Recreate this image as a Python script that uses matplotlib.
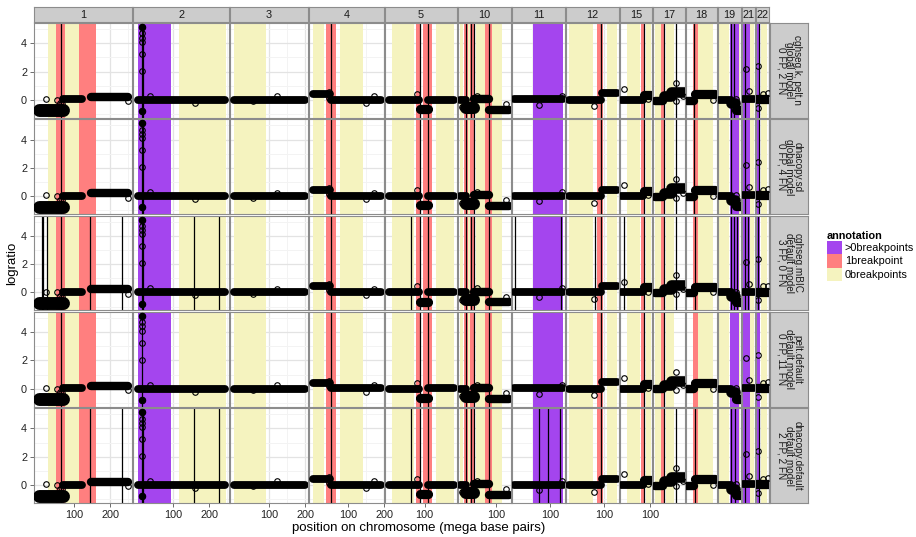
import matplotlib
matplotlib.use('Agg')
import matplotlib.pyplot as plt
from matplotlib.patches import Patch

plt.rcParams['font.family'] = ['Liberation Sans', 'DejaVu Sans']

# chromosomes shown (columns) and the span of probes on each, in Mb
chroms = ['1', '2', '3', '4', '5', '10', '11', '12', '15', '17', '18', '19', '21', '22']
chrom_start = [0, 0, 0, 0, 0, 0, 0, 0, 20, 0, 0, 0, 15, 17]
chrom_end = [249, 243, 198, 191, 181, 135, 135, 134, 102, 81, 78, 59, 48, 51]

# facet rows
models = ['cghseg.k, pelt.n\nglobal model\n0 FP, 2 FN',
          'dnacopy.sd\nglobal model\n0 FP, 4 FN',
          'cghseg.mBIC\ndefault model\n3 FP, 0 FN',
          'pelt.default\ndefault model\n0 FP, 11 FN',
          'dnacopy.default\ndefault model\n2 FP, 2 FN']

# annotated regions (same in every row)
ann_chrom = ['1', '1', '1', '1',
             '2', '2',
             '3',
             '4', '4', '4',
             '5', '5', '5', '5',
             '10', '10', '10', '10', '10', '10', '10',
             '11',
             '12', '12', '12',
             '15', '15', '15',
             '17', '17', '17',
             '18', '18',
             '19', '19', '19',
             '21', '21',
             '22', '22']
ann_start = [27, 50, 75, 114,
             0, 116,
             0,
             0, 38, 77,
             10, 75, 97, 132,
             0, 10, 23, 28, 43, 70, 89,
             52,
             0, 80, 106,
             37, 75, 89,
             0, 18, 31,
             16, 29,
             0, 30, 56,
             16, 35,
             17, 29.7]
ann_end = [50, 75, 112, 159,
           92, 247,
           91,
           31, 66, 142,
           72, 89, 121, 181,
           7, 22, 28, 42, 68, 88, 116,
           135,
           68, 95, 134,
           72, 87, 102,
           17, 30, 53,
           28, 72,
           27, 56, 59,
           35, 48,
           28, 46]
ann_type = ['0breakpoints', '1breakpoint', '0breakpoints', '1breakpoint',
            '>0breakpoints', '0breakpoints',
            '0breakpoints',
            '0breakpoints', '1breakpoint', '0breakpoints',
            '0breakpoints', '1breakpoint', '1breakpoint', '0breakpoints',
            '0breakpoints', '1breakpoint', '0breakpoints', '1breakpoint', '0breakpoints', '1breakpoint', '0breakpoints',
            '>0breakpoints',
            '0breakpoints', '1breakpoint', '0breakpoints',
            '0breakpoints', '1breakpoint', '0breakpoints',
            '0breakpoints', '1breakpoint', '0breakpoints',
            '1breakpoint', '0breakpoints',
            '0breakpoints', '>0breakpoints', '0breakpoints',
            '>0breakpoints', '0breakpoints',
            '>0breakpoints', '0breakpoints']
ann_colors = {'>0breakpoints': '#A445EE', '1breakpoint': '#FF7F7F', '0breakpoints': '#F5F3BF'}

# logratio profile: runs of probes (start, end, typical level, spread)
seg_chrom = ['1', '1', '1', '2', '3', '4', '4', '5', '5', '5',
             '10', '10', '10', '10', '11', '12', '12', '15', '15',
             '17', '17', '17', '18', '18', '19', '19', '19', '21', '22']
seg_start = [0.8, 68, 145, 0, 0, 0, 51, 0, 88, 111,
             0, 16, 39, 81, 0, 0, 92, 20, 82,
             0, 25, 46, 0, 20, 0, 34, 47, 15, 17]
seg_end = [67, 121, 249, 243, 198, 49, 191, 86, 109, 181,
           15, 38, 80, 135, 135, 91, 134, 81, 102,
           24, 45, 81, 19, 78, 33, 46, 59, 48, 51]
seg_mean = [-0.75, 0.03, 0.22, 0.0, 0.0, 0.42, 0.02, 0.0, -0.65, 0.02,
            0.0, -0.55, 0.05, -0.7, 0.03, 0.0, 0.45, 0.0, 0.35,
            -0.05, 0.25, 0.55, -0.05, 0.4, 0.0, -0.25, -0.7, 0.05, 0.05]
seg_spread = [0.28, 0.1, 0.12, 0.1, 0.1, 0.1, 0.1, 0.1, 0.15, 0.1,
              0.1, 0.25, 0.12, 0.12, 0.1, 0.1, 0.1, 0.1, 0.15,
              0.12, 0.2, 0.2, 0.12, 0.15, 0.1, 0.2, 0.15, 0.1, 0.15]

# isolated probes
out_chrom = ['1', '1', '1', '1', '1',
             '2', '2', '2', '2', '2', '2', '2', '2', '2',
             '3', '3', '4', '4', '4', '4', '5',
             '10', '10', '10', '11', '11', '12', '15', '15',
             '17', '17', '17', '18', '19', '21', '21',
             '22', '22', '22', '22']
out_pos = [22, 52, 65, 60, 249,
           13.7, 13.7, 13.7, 13.7, 13.7, 13.7, 13.7, 36, 160,
           120, 55, 47, 46, 150, 170, 80,
           4, 46, 128, 70, 132, 72, 27.7, 95,
           60.5, 60, 78, 72, 48, 24.4, 34.2,
           21.7, 35, 48.4, 21.7]
out_val = [0.05, 0.0, -0.3, -0.25, -0.1,
           5.15, 4.7, 4.4, 4.1, 3.25, 2.06, -0.8, 0.28, -0.2,
           0.25, -0.1, 0.58, 0.16, -0.2, 0.25, 0.42,
           -0.5, 0.28, -0.3, -0.35, 0.28, -0.47, 0.77, 0.05,
           1.2, -0.1, 0.25, 0.0, 0.05, 2.18, 0.63,
           2.39, 0.42, 0.47, -0.56]
# overplotted clusters that show as solid dots
dense_chrom = ['2', '2']
dense_pos = [13.7, 13.7]
dense_val = [5.15, -0.8]

# predicted breakpoints of each model (chromosome, Mb)
bp_cghseg_k = [('1', 63.4), ('2', 13.2), ('2', 14.4), ('4', 50.4), ('5', 87), ('5', 110),
               ('10', 15), ('10', 30), ('10', 38), ('10', 79), ('12', 91), ('15', 82),
               ('17', 25), ('17', 59.4), ('18', 19.4), ('19', 34), ('19', 43),
               ('21', 22.7), ('22', 23.3)]
bp_dnacopy_sd = [('1', 63.4), ('2', 13.2), ('2', 14.4), ('4', 50.4), ('5', 87), ('5', 110),
                 ('10', 15), ('10', 38), ('10', 79), ('12', 91), ('15', 82),
                 ('17', 25), ('17', 59.4), ('18', 19.4), ('19', 34),
                 ('21', 22.7), ('22', 23.3)]
bp_cghseg_mbic = [('1', 8.6), ('1', 13), ('1', 24), ('1', 63.4), ('1', 143.7), ('1', 234),
                  ('2', 13.2), ('2', 14.4), ('2', 157.6), ('2', 225.6), ('4', 50.4),
                  ('5', 61), ('5', 87), ('5', 110), ('10', 15), ('10', 30), ('10', 38), ('10', 79),
                  ('11', 2), ('11', 130), ('12', 73), ('12', 91), ('15', 27.7), ('15', 82),
                  ('17', 25), ('17', 60), ('18', 20), ('19', 34), ('19', 43), ('19', 51),
                  ('21', 22.7), ('21', 31), ('22', 22.5)]
bp_pelt_default = [('1', 63.4), ('2', 13.7), ('4', 50.4), ('5', 87), ('5', 110),
                   ('10', 15), ('10', 38), ('10', 79), ('12', 91), ('15', 82), ('17', 25)]
bp_dnacopy_default = [('1', 63.4), ('1', 143.7), ('1', 234), ('2', 13.2), ('2', 14.4),
                      ('2', 157.6), ('2', 225.6), ('4', 50.4), ('5', 61), ('5', 87), ('5', 110),
                      ('10', 15), ('10', 30), ('10', 38), ('10', 79), ('11', 70), ('11', 92.6),
                      ('11', 127), ('12', 91), ('15', 82), ('17', 25), ('17', 60), ('18', 20),
                      ('19', 34), ('19', 45), ('21', 22.7), ('22', 23.3)]
breakpoints = [bp_cghseg_k, bp_dnacopy_sd, bp_cghseg_mbic, bp_pelt_default, bp_dnacopy_default]

# ---- layout (pixels) ----
W, H = 916, 537
fig = plt.figure(figsize=(W / 100, H / 100), dpi=100)
left, right, top, bottom = 34, 769.3, 23, 503
gap_x, gap_y = 0.9, 1.5
ylim = (-1.27, 5.43)
border = '#8C8C8C'
spans = [(e - s) * 1.1 for s, e in zip(chrom_start, chrom_end)]
scale = (right - left - gap_x * (len(chroms) - 1)) / sum(spans)
row_h = (bottom - top - gap_y * (len(models) - 1)) / len(models)


def box(x0, y0, w, h):
    return [x0 / W, 1 - (y0 + h) / H, w / W, h / H]


def grey_strip(ax):
    ax.set_xticks([])
    ax.set_yticks([])
    ax.set_facecolor('#CCCCCC')
    for sp in ax.spines.values():
        sp.set_color(border)
        sp.set_linewidth(0.8)


for r, model in enumerate(models):
    y0 = top + r * (row_h + gap_y)
    x0 = left
    for c, ch in enumerate(chroms):
        w = spans[c] * scale
        ax = fig.add_axes(box(x0, y0, w, row_h))
        ax.set_axisbelow(True)
        ax.set_xticks([100, 200])
        ax.set_xticks([50, 150, 250], minor=True)
        ax.set_yticks([0, 2, 4])
        ax.set_yticks([-1, 1, 3, 5], minor=True)
        ax.grid(which='major', color='#E3E3E3', lw=0.9)
        ax.grid(which='minor', color='#F3F3F3', lw=0.7)
        ax.tick_params(which='minor', length=0)
        ax.tick_params(which='major', length=3, width=0.6, color='#555555',
                       labelsize=7.8, labelcolor='#222222', pad=2,
                       bottom=(r == len(models) - 1), labelbottom=(r == len(models) - 1),
                       left=(c == 0), labelleft=(c == 0))
        for sp in ax.spines.values():
            sp.set_color(border)
            sp.set_linewidth(0.8)

        for a_ch, a0, a1, at in zip(ann_chrom, ann_start, ann_end, ann_type):
            if a_ch == ch:
                ax.axvspan(a0, a1, color=ann_colors[at], lw=0, zorder=1)
        for b_ch, pos in breakpoints[r]:
            if b_ch == ch:
                ax.axvline(pos, color='black', lw=0.9, zorder=2)
        for s_ch, s0, s1, m, sd in zip(seg_chrom, seg_start, seg_end, seg_mean, seg_spread):
            if s_ch == ch:
                lw = (2 * sd * row_h / (ylim[1] - ylim[0]) + 5) * 0.72
                ax.plot([s0, s1], [m, m], color='black', lw=lw,
                        solid_capstyle='round', zorder=3)
        for o_ch, p, v in zip(out_chrom, out_pos, out_val):
            if o_ch == ch:
                ax.plot(p, v, 'o', mfc='none', mec='black', ms=4.0, mew=0.8, zorder=4)
        for o_ch, p, v in zip(dense_chrom, dense_pos, dense_val):
            if o_ch == ch:
                ax.plot(p, v, 'o', color='black', ms=4.4, zorder=4)

        # limits last, so the fixed tick positions do not widen them
        pad = (chrom_end[c] - chrom_start[c]) * 0.05
        ax.set_xlim(chrom_start[c] - pad, chrom_end[c] + pad)
        ax.set_ylim(*ylim)

        if r == 0:
            sax = fig.add_axes(box(x0, 7, w, top - 7.7))
            grey_strip(sax)
            sax.text(0.5, 0.45, ch, ha='center', va='center', fontsize=7.8,
                     color='#1A1A1A', transform=sax.transAxes)
        x0 += w + gap_x

    rax = fig.add_axes(box(right + 1, y0, 38, row_h))
    grey_strip(rax)
    rax.text(0.5, 0.5, model, rotation=-90, ha='center', va='center', fontsize=7.2,
             linespacing=0.75, color='#1A1A1A', transform=rax.transAxes)

fig.text(12 / W, 1 - (top + bottom) / 2 / H, 'logratio', rotation=90,
         ha='center', va='center', fontsize=9.5)
fig.text(419 / W, 1 - 528 / H, 'position on chromosome (mega base pairs)',
         ha='center', va='center', fontsize=9.5)

handles = [Patch(facecolor=ann_colors[k], edgecolor='none') for k in ann_colors]
leg = fig.legend(handles, list(ann_colors), title='annotation', loc='upper left',
                 bbox_to_anchor=(819 / W, 1 - 223 / H), frameon=False,
                 fontsize=7.8, title_fontsize=7.8, handlelength=1.45, handleheight=1.55,
                 handletextpad=0.25, labelspacing=0.0, borderpad=0.2)
leg.get_title().set_fontweight('bold')
leg._legend_box.align = 'left'

fig.savefig('out.png', dpi=100)
